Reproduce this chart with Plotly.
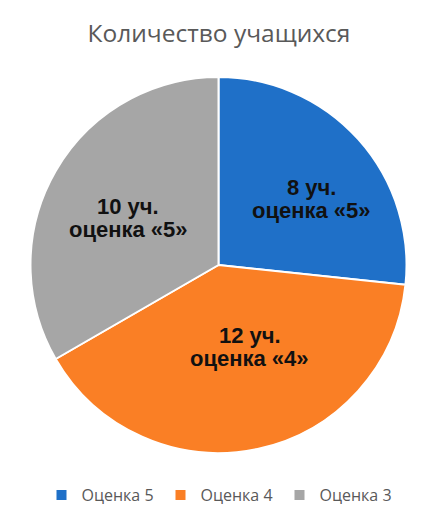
import math
import plotly.graph_objects as go

categories = ["Оценка 5", "Оценка 4", "Оценка 3"]
values = [8, 12, 10]
label_line1 = ["8 уч.", "12 уч.", "10 уч."]
label_line2 = ["оценка «5»", "оценка «4»", "оценка «5»"]
colors = ["#1F70C8", "#FA7F25", "#A6A6A6"]

# label placement (style): angular offset from slice middle (deg) and radial fraction
label_angle_offset = [6.7, -9.1, -2.6]
label_radius_frac = [0.603, 0.465, 0.542]

W, H = 442, 520
dom_x = [22, 399]   # px from left
dom_y = [69, 445]   # px from top
cx = (dom_x[0] + dom_x[1]) / 2
cy = (dom_y[0] + dom_y[1]) / 2
R = min(dom_x[1] - dom_x[0], dom_y[1] - dom_y[0]) / 2

fig = go.Figure(go.Pie(
    labels=categories,
    values=values,
    textinfo="none",
    sort=False,
    direction="clockwise",
    rotation=0,
    marker=dict(colors=colors, line=dict(color="white", width=2)),
    domain=dict(x=[dom_x[0] / W, dom_x[1] / W], y=[1 - dom_y[1] / H, 1 - dom_y[0] / H]),
    hoverinfo="label+value",
))

total = sum(values)
cum = 0
pitch = 23
font = dict(family="Liberation Sans", size=22, color="#111111", weight="bold")
for v, l1, l2, da, rf in zip(values, label_line1, label_line2, label_angle_offset, label_radius_frac):
    mid = (cum + v / 2) / total * 360 + da
    cum += v
    a = math.radians(mid)
    px = cx + rf * R * math.sin(a)
    py = cy - rf * R * math.cos(a)
    for txt, off in ((l1, -pitch / 2), (l2, pitch / 2)):
        fig.add_annotation(text=txt, x=px / W, y=1 - (py + off) / H, xref="paper", yref="paper",
                           xanchor="center", yanchor="middle", showarrow=False, font=font)

fig.update_layout(
    width=W, height=H,
    margin=dict(l=0, r=0, t=0, b=0),
    paper_bgcolor="white",
    title=dict(text="Количество учащихся", x=211 / W, xanchor="center",
               y=1 - 25 / H, yanchor="middle",
               font=dict(family="Open Sans", size=24.5, color="#595959")),
    legend=dict(orientation="h", x=212 / W, xanchor="center", y=1 - 487 / H, yanchor="middle",
                font=dict(family="Open Sans", size=16, color="#595959"),
                itemwidth=30, entrywidth=74, entrywidthmode="pixels"),
)
fig.write_html("out.html")
